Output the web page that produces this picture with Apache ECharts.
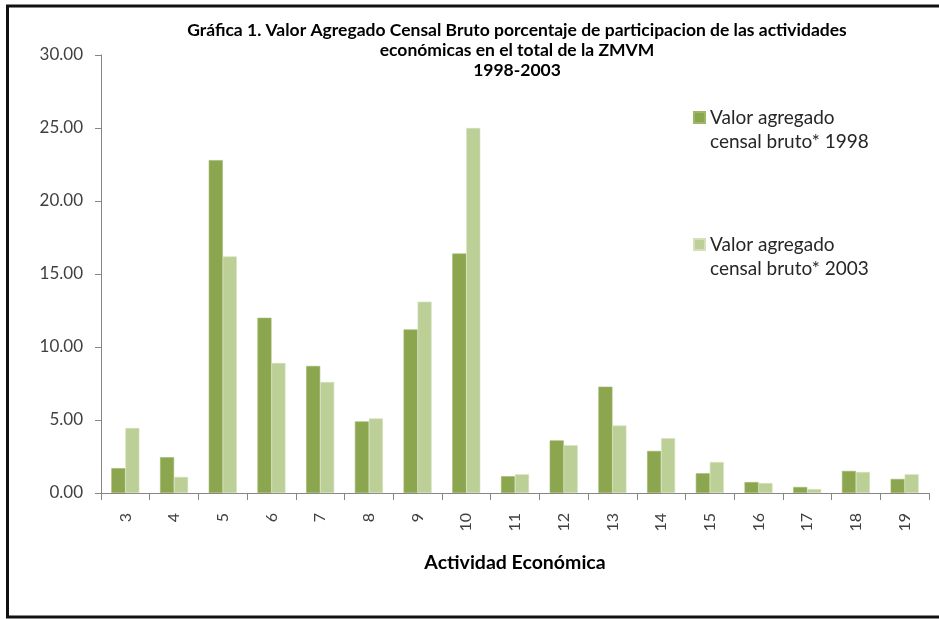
<!DOCTYPE html>
<html>
<head>
<meta charset="utf-8">
<script src="https://cdn.jsdelivr.net/npm/echarts@6/dist/echarts.min.js"></script>
<style>
html,body{margin:0;padding:0;background:#fff;}
#chart{width:939px;height:619px;}
</style>
</head>
<body>
<div id="chart"></div>
<script>
const categories = ['3','4','5','6','7','8','9','10','11','12','13','14','15','16','17','18','19'];
const values1998 = [1.70, 2.45, 22.80, 12.00, 8.70, 4.90, 11.20, 16.40, 1.15, 3.60, 7.28, 2.88, 1.35, 0.75, 0.41, 1.51, 0.96];
const values2003 = [4.45, 1.10, 16.20, 8.90, 7.60, 5.10, 13.10, 25.00, 1.28, 3.27, 4.62, 3.75, 2.12, 0.68, 0.27, 1.44, 1.28];
const seriesNames = ['Valor agregado\ncensal bruto* 1998', 'Valor agregado\ncensal bruto* 2003'];
const titleText = 'Gráfica 1. Valor Agregado Censal Bruto porcentaje de participacion de las actividades\neconómicas en el total de la ZMVM\n1998-2003';
const xAxisName = 'Actividad Económica';

const FONT = 'Lato';
const chart = echarts.init(document.getElementById('chart'), null, {renderer: 'canvas'});
chart.setOption({
  animation: false,
  backgroundColor: '#ffffff',
  title: {
    text: titleText,
    left: 517,
    top: 20,
    padding: 0,
    textAlign: 'center',
    textStyle: {fontFamily: FONT, fontWeight: 'bold', fontSize: 17.5, lineHeight: 20, color: '#000'}
  },
  legend: {
    orient: 'vertical',
    left: 693,
    top: 84,
    padding: 0,
    itemGap: 60,
    itemWidth: 11,
    itemHeight: 11,
    icon: 'rect',
    data: seriesNames,
    formatter: function (name) {
      const parts = name.split('\n');
      return '{s| }\n{s|' + parts[0] + '}\n{s|' + parts[1] + '}';
    },
    textStyle: {
      fontFamily: FONT, fontSize: 19, color: '#262626',
      rich: {s: {fontFamily: FONT, fontSize: 19, lineHeight: 24, color: '#262626'}}
    }
  },
  grid: {left: 101, right: 10, top: 55, bottom: 126, containLabel: false},
  xAxis: {
    type: 'category',
    data: categories,
    name: xAxisName,
    nameLocation: 'middle',
    nameGap: 60,
    nameTextStyle: {fontFamily: FONT, fontWeight: 'bold', fontSize: 19.5, color: '#000'},
    axisLine: {lineStyle: {color: '#868686', width: 1}},
    axisTick: {show: true, inside: false, length: 7, alignWithLabel: false, lineStyle: {color: '#868686'}},
    axisLabel: {rotate: 90, margin: 20, fontFamily: FONT, fontSize: 16, color: '#404040', interval: 0},
    splitLine: {show: false}
  },
  yAxis: {
    type: 'value',
    min: 0,
    max: 30,
    interval: 5,
    axisLine: {show: true, lineStyle: {color: '#868686', width: 1}},
    axisTick: {show: true, inside: false, length: 6, lineStyle: {color: '#868686'}},
    axisLabel: {margin: 18, fontFamily: FONT, fontSize: 17, color: '#404040', formatter: v => v.toFixed(2)},
    splitLine: {show: false}
  },
  series: [
    {name: seriesNames[0], type: 'bar', data: values1998, barWidth: 14, barGap: '0%',
     itemStyle: {color: '#8ba64f', borderColor: '#9db767', borderWidth: 0.6}},
    {name: seriesNames[1], type: 'bar', data: values2003, barWidth: 14,
     itemStyle: {color: '#bbcf97', borderColor: '#d3e1ba', borderWidth: 0.6}}
  ],
  graphic: [
    {type: 'rect', silent: true, z: 100,
     shape: {x: 7.5, y: 6, width: 960, height: 611},
     style: {fill: 'none', stroke: '#111111', lineWidth: 3}}
  ]
});
</script>
</body>
</html>
